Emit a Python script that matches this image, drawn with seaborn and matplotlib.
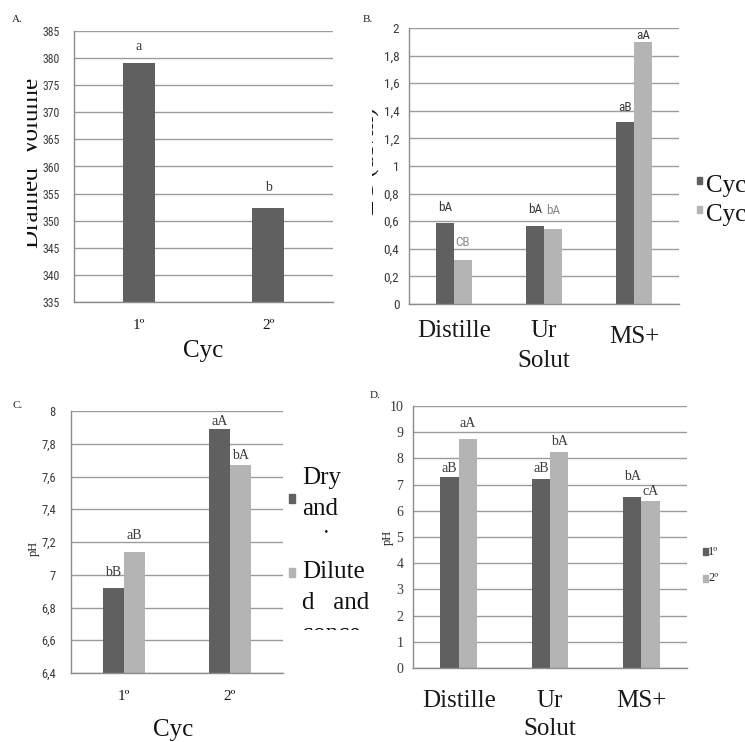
import os
import numpy as np
import pandas as pd
import matplotlib
matplotlib.use("Agg")
import matplotlib.pyplot as plt
import seaborn as sns
from matplotlib import font_manager
from matplotlib.font_manager import FontProperties
from matplotlib.patches import Rectangle
from matplotlib.transforms import Bbox, TransformedBbox

# ---------------- data ----------------
cycles = ["1º", "2º"]
drained_volume = [379.1, 352.3]
drained_letters = ["a", "b"]

solutions = ["Distille", "Ur\nSolut", "MS+"]
ec_cycle1 = [0.585, 0.565, 1.317]
ec_cycle2 = [0.32, 0.546, 1.90]
ec_letters1 = ["bA", "bA", "aB"]
ec_letters2 = ["CB", "bA", "aA"]

ph_cyc_dry = [6.92, 7.89]
ph_cyc_diluted = [7.14, 7.67]
ph_cyc_letters_dry = ["bB", "aA"]
ph_cyc_letters_diluted = ["aB", "bA"]

ph_sol_cycle1 = [7.29, 7.23, 6.53]
ph_sol_cycle2 = [8.73, 8.25, 6.38]
ph_sol_letters1 = ["aB", "aB", "bA"]
ph_sol_letters2 = ["aA", "bA", "cA"]

ticks_a = [335, 340, 345, 350, 355, 360, 365, 370, 375, 380, 385]
ticks_b = [0, 0.2, 0.4, 0.6, 0.8, 1.0, 1.2, 1.4, 1.6, 1.8, 2.0]
ticks_c = [6.4, 6.6, 6.8, 7.0, 7.2, 7.4, 7.6, 7.8, 8.0]
ticks_d = [0, 1, 2, 3, 4, 5, 6, 7, 8, 9, 10]

# ---------------- style ----------------
DARK = "#606060"
LIGHT = "#b4b4b4"
GRID = "#9c9c9c"
SPINE = "#8c8c8c"
TXT = "#3a3a3a"

avail = {f.name for f in font_manager.fontManager.ttflist}
SERIF = [f for f in ["Liberation Serif", "DejaVu Serif"] if f in avail]


def find_narrow():
    prefs = ["liberationsansnarrow-regular", "robotocondensed-regular", "dejavusanscondensed.ttf",
             "opensans_condensed-regular", "opensanscondensed"]
    files = [f.fname for f in font_manager.fontManager.ttflist]
    for p in prefs:
        for fn in files:
            if p in os.path.basename(fn).lower():
                return fn
    for fn in files:
        b = os.path.basename(fn).lower()
        if ("narrow" in b or "condensed" in b) and not any(k in b for k in ["bold", "italic", "oblique", "light", "thin", "black", "medium"]):
            return fn
    return None


NARROW_FILE = find_narrow()


def narrow(size):
    if NARROW_FILE:
        return FontProperties(fname=NARROW_FILE, size=size)
    return FontProperties(family=["Liberation Sans", "DejaVu Sans"], size=size)


sns.set_style("white")
plt.rcParams["font.family"] = SERIF

W, H = 745, 742
fig = plt.figure(figsize=(W / 100, H / 100), dpi=100)


def px_axes(l, t, r, b):
    return fig.add_axes([l / W, 1 - b / H, (r - l) / W, (b - t) / H])


def ftext(x, y, s, clip=None, **kw):
    t = fig.text(x / W, 1 - y / H, s, **kw)
    if clip is not None:
        x0, y0, x1, y1 = clip
        bb = Bbox.from_extents(x0 / W, 1 - y1 / H, x1 / W, 1 - y0 / H)
        t.set_clip_box(TransformedBbox(bb, fig.transFigure))
        t.set_clip_on(True)
    return t


def fmt(v):
    return ("%g" % round(v, 1)).replace(".", ",")


def style(ax, n, ticks, yprop, xsize, xpad, ypad):
    ax.set_xlim(-0.5, n - 0.5)
    ax.set_ylim(ticks[0], ticks[-1])
    ax.set_yticks(ticks)
    ax.set_yticklabels([fmt(v) for v in ticks], fontproperties=yprop, color=TXT)
    ax.set_xticks(np.arange(-0.5, n, 1.0), minor=True)
    for lab in ax.get_xticklabels():
        lab.set_fontfamily(SERIF)
        lab.set_fontsize(xsize)
        lab.set_color("#1a1a1a")
    ax.set_xlabel("")
    ax.set_ylabel("")
    ax.yaxis.grid(True, color=GRID, linewidth=1.0)
    ax.xaxis.grid(False)
    ax.set_axisbelow(True)
    for s in ["top", "right"]:
        ax.spines[s].set_visible(False)
    for s in ["left", "bottom"]:
        ax.spines[s].set_color(SPINE)
        ax.spines[s].set_linewidth(1.0)
    ax.tick_params(axis="x", which="both", length=4, color=SPINE, direction="out", pad=xpad)
    ax.tick_params(axis="y", which="both", length=4, color=SPINE, direction="out", pad=ypad)


def letters(ax, labels, offsets, prop, colors=None):
    for ci, (cont, labs, offs) in enumerate(zip(ax.containers, labels, offsets)):
        for bi, (rect, lab, off) in enumerate(zip(cont, labs, offs)):
            col = colors[ci][bi] if colors else TXT
            ax.annotate(lab, (rect.get_x() + rect.get_width() / 2, rect.get_height()),
                        xytext=(0, off * 0.72), textcoords="offset points",
                        ha="center", va="center", fontproperties=prop,
                        color=col, annotation_clip=False)


SERIF10 = FontProperties(family=SERIF, size=10)

# ---------------- panel A ----------------
dfA = pd.DataFrame({"Cycle": cycles, "Volume": drained_volume})
axA = px_axes(74, 31, 333, 302)
sns.barplot(data=dfA, x="Cycle", y="Volume", color=DARK, width=0.25, saturation=1,
            linewidth=0, errorbar=None, ax=axA)
style(axA, 2, ticks_a, narrow(8.5), 11, 8, 6.5)
letters(axA, [drained_letters], [[16, 21]], SERIF10)
ftext(203, 357, "Cyc", ha="center", va="baseline", fontsize=18, color="#111111")
ftext(43, 163, "Drained  Volume", clip=(27, 0, 372, 380), rotation=90, ha="right",
      va="center", fontsize=18, color="#111111")
ftext(12, 20, "A.", ha="left", va="center", fontsize=8, color="#222222")

# ---------------- panel B ----------------
dfB = pd.DataFrame({"Solution": solutions * 2,
                    "Cycle": ["1º"] * 3 + ["2º"] * 3,
                    "EC": ec_cycle1 + ec_cycle2})
axB = px_axes(409, 28, 679, 304)
sns.barplot(data=dfB, x="Solution", y="EC", hue="Cycle", palette=[DARK, LIGHT],
            width=0.4, saturation=1, linewidth=0, errorbar=None, legend=False, ax=axB)
style(axB, 3, ticks_b, narrow(9.5), 18, 7.5, 3)
for lab in axB.get_xticklabels():
    lab.set_linespacing(1.45)
    if lab.get_text() == "MS+":
        lab.set_y(-0.022)
letters(axB, [ec_letters1, ec_letters2], [[16, 17, 15], [17, 18, 6]], narrow(9.5),
        colors=[[TXT, TXT, TXT], ["#8a8a8a", "#8a8a8a", TXT]])
ftext(380, 161, "EC (dS/m)", clip=(372, 0, 745, 380), rotation=90, ha="right",
      va="center", fontsize=18, color="#111111")
ftext(363, 20, "B.", ha="left", va="center", fontsize=8, color="#222222")
fig.add_artist(Rectangle((697 / W, 1 - 184 / H), 5 / W, 7 / H, color=DARK, transform=fig.transFigure))
fig.add_artist(Rectangle((697 / W, 1 - 213 / H), 5 / W, 7 / H, color=LIGHT, transform=fig.transFigure))
ftext(706, 192, "Cyc", ha="left", va="baseline", fontsize=18, color="#111111")
ftext(706, 221, "Cyc", ha="left", va="baseline", fontsize=18, color="#111111")

# ---------------- panel C ----------------
dfC = pd.DataFrame({"Cycle": cycles * 2,
                    "Water": ["Dry"] * 2 + ["Diluted"] * 2,
                    "pH": ph_cyc_dry + ph_cyc_diluted})
axC = px_axes(71, 411, 283, 673)
sns.barplot(data=dfC, x="Cycle", y="pH", hue="Water", palette=[DARK, LIGHT],
            width=0.4, saturation=1, linewidth=0, errorbar=None, legend=False, ax=axC)
style(axC, 2, ticks_c, narrow(9), 11, 8, 7)
letters(axC, [ph_cyc_letters_dry, ph_cyc_letters_diluted], [[15, 8], [16, 10]], SERIF10)
ftext(173, 736, "Cyc", ha="center", va="baseline", fontsize=18, color="#111111")
ftext(34, 548, "pH", rotation=90, ha="center", va="center", fontsize=9, color="#222222")
ftext(12, 405, "C.", ha="left", va="center", fontsize=8, color="#222222")
fig.add_artist(Rectangle((289 / W, 1 - 503 / H), 6 / W, 9 / H, color=DARK, transform=fig.transFigure))
fig.add_artist(Rectangle((289 / W, 1 - 577 / H), 6 / W, 9 / H, color=LIGHT, transform=fig.transFigure))
clip1 = (290, 440, 372, 535)
clip2 = (290, 545, 372, 630)
ftext(302, 484, "Dry", clip=clip1, ha="left", va="baseline", fontsize=18, color="#111111")
ftext(302, 515, "and", clip=clip1, ha="left", va="baseline", fontsize=18, color="#111111")
ftext(322, 547, "i", clip=clip1, ha="left", va="baseline", fontsize=18, color="#111111")
ftext(302, 578, "Dilute", clip=clip2, ha="left", va="baseline", fontsize=18, color="#111111")
ftext(302, 609, "d   and", clip=clip2, ha="left", va="baseline", fontsize=18, color="#111111")
ftext(302, 640, "conce", clip=clip2, ha="left", va="baseline", fontsize=18, color="#111111")

# ---------------- panel D ----------------
dfD = pd.DataFrame({"Solution": solutions * 2,
                    "Cycle": ["1º"] * 3 + ["2º"] * 3,
                    "pH": ph_sol_cycle1 + ph_sol_cycle2})
axD = px_axes(413, 406, 687, 668)
sns.barplot(data=dfD, x="Solution", y="pH", hue="Cycle", palette=[DARK, LIGHT],
            width=0.4, saturation=1, linewidth=0, errorbar=None, legend=False, ax=axD)
style(axD, 3, ticks_d, FontProperties(family=SERIF, size=10), 18, 11.5, 3)
for lab in axD.get_xticklabels():
    lab.set_linespacing(1.38)
letters(axD, [ph_sol_letters1, ph_sol_letters2], [[9, 10, 20], [16, 10, 9]], SERIF10)
ftext(388, 537, "pH", rotation=90, ha="center", va="center", fontsize=9, color="#222222")
ftext(370, 396, "D.", ha="left", va="center", fontsize=8, color="#222222")
fig.add_artist(Rectangle((703 / W, 1 - 555 / H), 5 / W, 7 / H, color=DARK, transform=fig.transFigure))
fig.add_artist(Rectangle((703 / W, 1 - 582 / H), 5 / W, 7 / H, color=LIGHT, transform=fig.transFigure))
ftext(708, 552, "1º", ha="left", va="center", fontsize=9, color="#222222")
ftext(708, 578, "2º", ha="left", va="center", fontsize=9, color="#222222")

fig.savefig("out.png", dpi=100, facecolor="white")
